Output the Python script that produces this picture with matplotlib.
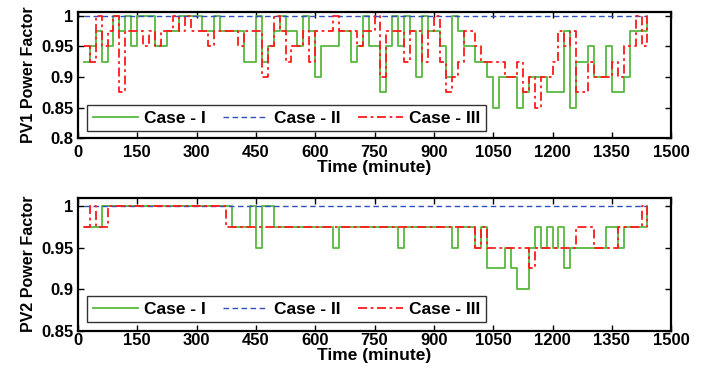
import matplotlib
matplotlib.use("Agg")
import matplotlib.pyplot as plt

plt.rcParams['font.family'] = ['Liberation Sans', 'DejaVu Sans']
plt.rcParams['font.weight'] = 'bold'

# time grid (minutes), 15 min steps
time = list(range(15, 1441, 15))

# PV1 power factor
pv1_case1 = [.925, .95, .975, .925, .95, 1, .975, 1,
             .95, 1, 1, 1, .95, .95, .975, .975,
             1, 1, 1, 1, .975, .975, 1, .975,
             .975, .975, .975, .925, .925, 1, .925, .95,
             .975, 1, .975, .975, .95, 1, .975, .9,
             .95, .95, .95, .975, .975, .925, .95, 1,
             .95, .95, .875, .95, 1, .95, 1, .975,
             .9, 1, .975, .975, .95, .9, 1, .975,
             .95, .95, .925, .925, .9, .85, .9, .9,
             .9, .85, .875, .9, .9, .9, .875, .875,
             .875, .975, .85, .925, .925, .95, .9, .9,
             .95, .875, .875, .9, .975, .975, .975, 1]
pv1_case2 = [1] * 96
pv1_case3 = [.95, .925, 1, .95, .975, 1, .875, .975,
             .975, .975, .95, .975, .95, .975, .975, 1,
             .975, 1, .975, .975, .975, .95, .975, .975,
             .975, .975, .95, .975, .975, .975, .9, .95,
             1, .975, .925, .95, .95, .975, .925, .975,
             .975, .975, 1, .975, .975, .975, .95, .975,
             .975, 1, .9, .975, .975, .975, .925, .975,
             .975, .925, .975, 1, .925, .875, .9, .925,
             .975, .975, .95, .925, .925, .925, .925, .9,
             .9, .925, .875, .9, .85, .9, .9, .925,
             .975, .95, .975, .875, .875, .925, .9, .9,
             .9, .925, .9, .95, .95, 1, .95, 1]

# PV2 power factor
pv2_case1 = [.975, .975, .975, 1, 1, 1, 1, 1,
             1, 1, 1, 1, 1, 1, 1, 1,
             1, 1, 1, 1, 1, 1, 1, 1,
             1, .975, .975, .975, 1, .95, 1, 1,
             .975, .975, .975, .975, .975, .975, .975, .975,
             .975, .975, .95, .975, .975, .975, .975, .975,
             .975, .975, .975, .975, .975, .95, .975, .975,
             .975, .975, .975, .975, .975, .975, .95, .975,
             .975, .975, .95, .975, .925, .925, .925, .95,
             .925, .9, .9, .95, .975, .95, .975, .95,
             .975, .925, .95, .95, .95, .95, .95, .95,
             .975, .975, .95, .975, .975, .975, .975, 1]
pv2_case2 = [1] * 96
pv2_case3 = [.975, 1, .975, .975, 1, 1, 1, 1,
             1, 1, 1, 1, 1, 1, 1, 1,
             1, 1, 1, 1, 1, 1, 1, 1,
             .975, .975, .975, .975, .975, .975, .975, .975,
             .975, .975, .975, .975, .975, .975, .975, .975,
             .975, .975, .975, .975, .975, .975, .975, .975,
             .975, .975, .975, .975, .975, .975, .975, .975,
             .975, .975, .975, .975, .975, .975, .975, .975,
             .975, .975, .95, .975, .95, .95, .95, .95,
             .95, .95, .95, .925, .95, .95, .95, .95,
             .95, .95, .95, .975, .975, .975, .95, .95,
             .95, .95, .975, .975, .975, .975, 1, .975]

labels = ['Case - I', 'Case - II', 'Case - III']
xticks = [0, 150, 300, 450, 600, 750, 900, 1050, 1200, 1350, 1500]

green = '#58b83e'
blue = '#2f4fbf'
red = '#ff1a1a'

fig = plt.figure(figsize=(7.08, 3.71), dpi=100)
ax1 = fig.add_axes([0.110, 0.627, 0.838, 0.341])
ax2 = fig.add_axes([0.110, 0.109, 0.838, 0.358])


def draw(ax, c1, c2, c3, ylim, yticks, yticklabels, ylabel, leg_anchor, xpad):
    ax.step(time, c1, where='post', color=green, lw=1.3, label=labels[0])
    ax.step(time, c2, where='post', color=blue, lw=1.0, dashes=(4, 2.5), label=labels[1])
    ax.step(time, c3, where='post', color=red, lw=1.3, dashes=(5, 2, 1.5, 2), label=labels[2])
    ax.set_xlim(0, 1500)
    ax.set_ylim(*ylim)
    ax.set_xticks(xticks)
    ax.set_yticks(yticks)
    ax.set_yticklabels(yticklabels)
    ax.tick_params(direction='in', top=True, right=True, length=4, width=1,
                   labelsize=12)
    ax.tick_params(axis='x', pad=xpad)
    ax.tick_params(axis='y', pad=3)
    for s in ax.spines.values():
        s.set_linewidth(1.6)
    ax.set_xlabel('Time (minute)', fontsize=12.5, fontweight='bold', labelpad=0)
    ax.set_ylabel(ylabel, fontsize=11.5, fontweight='bold', labelpad=4)
    leg = ax.legend(loc='lower left', bbox_to_anchor=leg_anchor, ncol=3,
                    fontsize=12.5, frameon=True, fancybox=False, edgecolor='black',
                    handlelength=2.6, handletextpad=0.35, columnspacing=1.0,
                    borderaxespad=0, borderpad=0.3)
    leg.get_frame().set_linewidth(1.0)


draw(ax1, pv1_case1, pv1_case2, pv1_case3, (0.8, 1.006),
     [0.8, 0.85, 0.9, 0.95, 1], ['0.8', '0.85', '0.9', '0.95', '1'],
     'PV1 Power Factor', (0.016, 0.058), 5)
draw(ax2, pv2_case1, pv2_case2, pv2_case3, (0.85, 1.01),
     [0.85, 0.9, 0.95, 1], ['0.85', '0.9', '0.95', '1'],
     'PV2 Power Factor', (0.016, 0.065), 2)

fig.savefig('out.png', dpi=100)
